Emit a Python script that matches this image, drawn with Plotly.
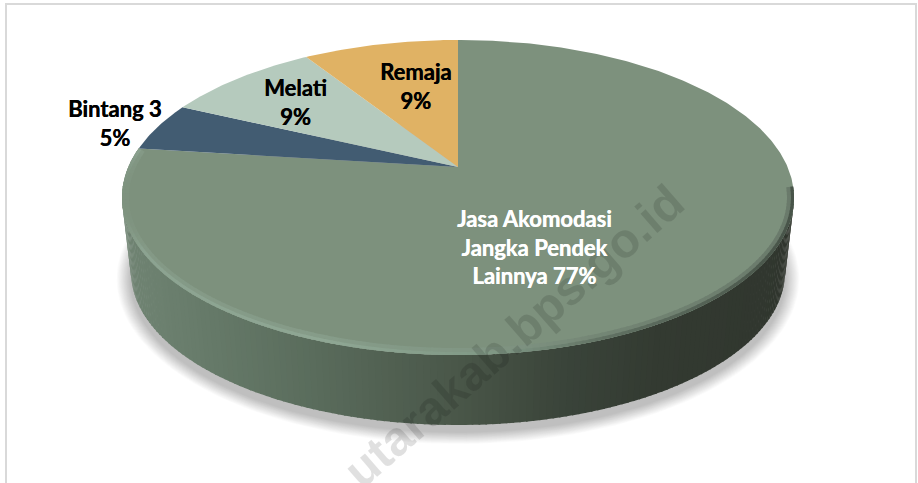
import numpy as np
import plotly.graph_objects as go

# ---- data ----
categories = ["Jasa Akomodasi Jangka Pendek Lainnya", "Bintang 3", "Melati", "Remaja"]
values = [77, 5, 9, 9]
slice_colors = ["#7d917d", "#425c72", "#b5cabd", "#e0b264"]
label_text = ["Jasa Akomodasi<br>Jangka Pendek<br>Lainnya 77%", "Bintang 3<br>5%", "Melati<br>9%", "Remaja<br>9%"]
label_colors = ["#ffffff", "#000000", "#000000", "#000000"]
label_pos = [(534, 247), (115, 123), (295, 102), (416, 86)]

# ---- perspective view of the round pie top (turning the values into shapes) ----
CX, APEX_Y, TILT, YSCALE, XSCALE = 458.0, 167.0, 0.1937, -119.3, 329.6


def project(u, v):
    d = 1 + TILT * v
    return CX + XSCALE * u / d, (YSCALE * v + APEX_Y) / d


def rim(t):
    """Rim point of the top face; t in radians clockwise from 12 o'clock."""
    return project(np.sin(t), np.cos(t))


def blend(stops, f):
    pos = [s[0] for s in stops]
    rgb = [np.interp(f, pos, [s[1][i] for s in stops]) for i in range(3)]
    return "rgb(%d,%d,%d)" % tuple(int(round(c)) for c in rgb)


TOP_CY, TOP_A, TOP_B = 197.5, 336.0, 157.5
BOT_CY, BOT_A, BOT_B = 272.0, 327.0, 153.0

fig = go.Figure()


def poly(xs, ys, color):
    fig.add_trace(go.Scatter(x=list(xs), y=list(ys), mode="lines", fill="toself", fillcolor=color,
                             line=dict(width=0, color=color), hoverinfo="skip", showlegend=False))


# soft shadow beneath the disc
ang = np.linspace(0, 2 * np.pi, 180)
for d in range(16, 0, -1):
    poly(CX + (BOT_A + d * 0.9) * np.cos(ang), BOT_CY + 7 + (BOT_B + d * 0.75) * np.sin(ang), "rgba(0,0,0,0.014)")

# side wall, shaded left to right
wall_stops = [(0.0, (112, 132, 115)), (0.12, (102, 122, 105)), (0.3, (88, 106, 90)), (0.5, (73, 86, 72)),
              (0.65, (58, 68, 58)), (0.8, (51, 58, 49)), (1.0, (48, 54, 46))]
n = 150
for i in range(n):
    a0 = np.pi * (1 - i / n)
    a1 = np.pi * (1 - (i + 1.25) / n)
    xt = CX + TOP_A * np.cos([a0, a1])
    yt = TOP_CY + TOP_B * np.sin([a0, a1])
    xb = CX + BOT_A * np.cos([a1, a0])
    yb = BOT_CY + BOT_B * np.sin([a1, a0])
    f = (xt[0] - (CX - TOP_A)) / (2 * TOP_A)
    poly(np.r_[xt, xb, xt[0]], np.r_[yt, yb, yt[0]], blend(wall_stops, f))

# top face slices
total = sum(values)
start = 0.0
for val, col in zip(values, slice_colors):
    end = start + val / total * 2 * np.pi
    t = np.linspace(start, end, max(int(val * 6), 24))
    x, y = rim(t)
    poly(np.r_[CX, x, CX], np.r_[APEX_Y, y, APEX_Y], col)
    start = end

# bevel around the lower rim of the top face (opaque, soft outer band first)
soft_stops = [(0.0, (125, 145, 125)), (0.03, (132, 153, 134)), (0.3, (134, 156, 137)), (0.55, (128, 149, 131)),
              (0.72, (115, 133, 116)), (1.0, (106, 122, 107))]
core_stops = [(0.0, (125, 145, 125)), (0.03, (140, 163, 145)), (0.3, (143, 167, 148)), (0.55, (128, 152, 133)),
              (0.72, (96, 112, 98)), (1.0, (72, 84, 73))]
m = 160
for width, inset, stops in [(7, 3.5, soft_stops), (3, 1.5, core_stops)]:
    for i in range(m):
        a = np.pi * 1.1 - (np.pi * 1.12) * np.array([i, i + 1.3]) / m
        xs = CX + (TOP_A - inset) * np.cos(a)
        ys = TOP_CY + (TOP_B - inset) * np.sin(a)
        c = blend(stops, float(np.clip((xs[0] - (CX - TOP_A)) / (2 * TOP_A), 0, 1)))
        fig.add_trace(go.Scatter(x=xs, y=ys, mode="lines", line=dict(width=width, color=c),
                                 hoverinfo="skip", showlegend=False))

annotations = []
annotations.append(dict(x=513, y=336, xref="x", yref="y", text="<b>utarakab.bps.go.id</b>", showarrow=False,
                        textangle=-41, font=dict(family="Liberation Sans", size=48.5, color="rgba(0,0,0,0.12)"),
                        xanchor="center", yanchor="middle"))
for txt, col, (lx, ly) in zip(label_text, label_colors, label_pos):
    annotations.append(dict(x=lx, y=ly, xref="x", yref="y", text="<b>%s</b>" % txt, showarrow=False,
                            font=dict(family="Lato", size=22, color=col, shadow="0.4px 0 0 %s" % col),
                            align="center", xanchor="center", yanchor="middle"))

fig.update_layout(
    width=918, height=483, autosize=False, margin=dict(l=0, r=0, t=0, b=0),
    paper_bgcolor="white", plot_bgcolor="white", showlegend=False,
    xaxis=dict(range=[0, 918], visible=False, fixedrange=True),
    yaxis=dict(range=[483, 0], visible=False, fixedrange=True),
    annotations=annotations,
    shapes=[dict(type="rect", xref="x", yref="y", x0=6, y0=4, x1=916, y1=500,
                 line=dict(color="#d9d9d9", width=2), fillcolor="rgba(0,0,0,0)", layer="above")],
)
fig.write_html("out.html", config=dict(displayModeBar=False),
               post_script="document.body.style.margin='0';document.body.style.overflow='hidden';")
